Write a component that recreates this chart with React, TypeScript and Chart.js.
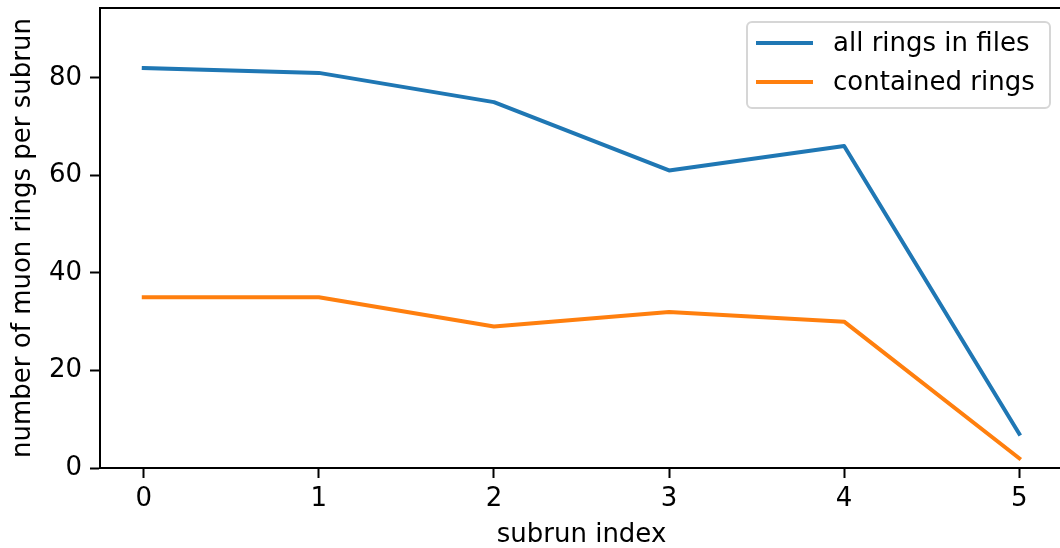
import React, { useEffect, useRef } from "react";
import { Chart, registerables } from "chart.js";

Chart.register(...registerables);

const subrunIndex = [0, 1, 2, 3, 4, 5];
const allRings = [82, 81, 75, 61, 66, 7];
const containedRings = [35, 35, 29, 32, 30, 2];
const seriesLabels = ["all rings in files", "contained rings"];
const seriesColors = ["#1f77b4", "#ff7f0e"];
const yTicks = [0, 20, 40, 60, 80];

const FONT = "'DejaVu Sans', sans-serif";

const framePlugin = {
  id: "frame",
  afterDatasetsDraw(chart: any) {
    const { ctx, chartArea } = chart;
    ctx.save();
    ctx.strokeStyle = "#000";
    ctx.lineWidth = 2;
    ctx.beginPath();
    ctx.moveTo(chartArea.left - 1, chartArea.top);
    ctx.lineTo(chartArea.right + 1, chartArea.top);
    ctx.moveTo(chartArea.right, chartArea.top);
    ctx.lineTo(chartArea.right, chartArea.bottom);
    ctx.stroke();
    ctx.restore();
  },
};

const legendPlugin = {
  id: "mplLegend",
  afterDraw(chart: any) {
    const { ctx, chartArea } = chart;
    const x1 = chartArea.right - 13;
    const x0 = x1 - 303;
    const y0 = chartArea.top + 14;
    const h = 86;
    const r = 5;
    ctx.save();
    ctx.beginPath();
    ctx.moveTo(x0 + r, y0);
    ctx.lineTo(x1 - r, y0);
    ctx.arcTo(x1, y0, x1, y0 + r, r);
    ctx.lineTo(x1, y0 + h - r);
    ctx.arcTo(x1, y0 + h, x1 - r, y0 + h, r);
    ctx.lineTo(x0 + r, y0 + h);
    ctx.arcTo(x0, y0 + h, x0, y0 + h - r, r);
    ctx.lineTo(x0, y0 + r);
    ctx.arcTo(x0, y0, x0 + r, y0, r);
    ctx.closePath();
    ctx.fillStyle = "rgba(255,255,255,0.8)";
    ctx.fill();
    ctx.strokeStyle = "#d6d6d6";
    ctx.lineWidth = 2;
    ctx.stroke();
    chart.data.datasets.forEach((ds: any, i: number) => {
      const y = y0 + 21 + i * 39;
      ctx.beginPath();
      ctx.strokeStyle = ds.borderColor;
      ctx.lineWidth = 4;
      ctx.lineCap = "butt";
      ctx.moveTo(x0 + 9, y);
      ctx.lineTo(x0 + 66, y);
      ctx.stroke();
      ctx.fillStyle = "#000";
      ctx.font = `26px ${FONT}`;
      ctx.textBaseline = "middle";
      ctx.textAlign = "left";
      ctx.fillText(ds.label, x0 + 86, y + 1);
    });
    ctx.restore();
  },
};

export default function App() {
  const ref = useRef<HTMLCanvasElement | null>(null);
  useEffect(() => {
    document.body.style.margin = "0";
    document.body.style.overflow = "hidden";
    const canvas = ref.current!;
    const chart = new Chart(canvas, {
      type: "line",
      data: {
        datasets: [
          {
            label: seriesLabels[0],
            data: subrunIndex.map((x, i) => ({ x, y: allRings[i] })),
            borderColor: seriesColors[0],
            backgroundColor: seriesColors[0],
            borderWidth: 4,
            pointRadius: 0,
            tension: 0,
            borderCapStyle: "square",
            borderJoinStyle: "round",
          },
          {
            label: seriesLabels[1],
            data: subrunIndex.map((x, i) => ({ x, y: containedRings[i] })),
            borderColor: seriesColors[1],
            backgroundColor: seriesColors[1],
            borderWidth: 4,
            pointRadius: 0,
            tension: 0,
            borderCapStyle: "square",
            borderJoinStyle: "round",
          },
        ],
      },
      options: {
        animation: false,
        responsive: false,
        devicePixelRatio: 1,
        layout: { padding: { top: 8, right: 7, left: 0, bottom: 0 } },
        plugins: {
          legend: { display: false },
          tooltip: { enabled: false },
        },
        scales: {
          x: {
            type: "linear",
            min: -0.25,
            max: 5.25,
            afterFit(scale: any) {
              scale.height = 80;
              scale.paddingLeft = 0;
              scale.paddingRight = 0;
            },
            afterBuildTicks(scale: any) {
              scale.ticks = subrunIndex.map((v) => ({ value: v }));
            },
            ticks: {
              color: "#000",
              font: { family: FONT, size: 26 },
              padding: 6,
              maxRotation: 0,
              callback: (v: any) => String(v),
            },
            grid: {
              drawOnChartArea: false,
              drawTicks: true,
              tickLength: 10,
              tickWidth: 2,
              tickColor: "#000",
            },
            border: { display: true, color: "#000", width: 2 },
            title: {
              display: true,
              text: "subrun index",
              color: "#000",
              font: { family: FONT, size: 26, lineHeight: 1 },
              padding: { top: 0, bottom: 0 },
            },
          },
          y: {
            type: "linear",
            min: 0,
            max: 94.3,
            afterFit(scale: any) {
              scale.width = 100;
              scale.paddingTop = 0;
              scale.paddingBottom = 0;
            },
            afterBuildTicks(scale: any) {
              scale.ticks = yTicks.map((v) => ({ value: v }));
            },
            ticks: {
              color: "#000",
              font: { family: FONT, size: 26 },
              padding: 8,
              callback: (v: any) => String(v),
            },
            grid: {
              drawOnChartArea: false,
              drawTicks: true,
              tickLength: 10,
              tickWidth: 2,
              tickColor: "#000",
            },
            border: { display: true, color: "#000", width: 2 },
            title: {
              display: true,
              text: "number of muon rings per subrun",
              color: "#000",
              font: { family: FONT, size: 26, lineHeight: 1 },
              padding: { top: 10, bottom: 0 },
            },
          },
        },
      },
      plugins: [framePlugin, legendPlugin],
    } as any);
    return () => chart.destroy();
  }, []);
  return (
    <div
      style={{
        position: "fixed",
        left: 0,
        top: 0,
        width: 1060,
        height: 548,
        overflow: "hidden",
        background: "#fff",
      }}
    >
      <canvas ref={ref} width={1070} height={548} style={{ display: "block" }} />
    </div>
  );
}
